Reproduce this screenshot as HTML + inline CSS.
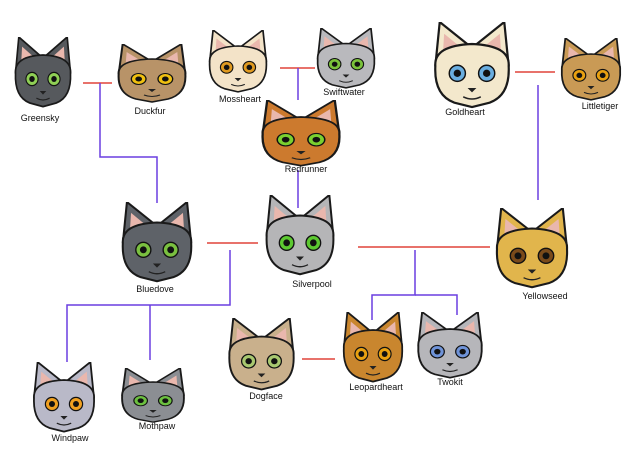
<!DOCTYPE html>
<html><head><style>
body{margin:0;background:#fff}
svg{display:block}
text{font-family:"Liberation Sans",sans-serif;font-size:9px;fill:#111;text-anchor:middle}
</style></head><body>
<svg width="640" height="450" viewBox="0 0 640 450" xmlns="http://www.w3.org/2000/svg">
<defs>
<symbol id="cat" viewBox="0 0 60 60" preserveAspectRatio="none">
<g stroke="#1a1a1a" stroke-width="1.5" stroke-linejoin="round">
<polygon points="5,30 8,0 28,16" fill="currentColor"/>
<polygon points="32,16 52,0 55,30" fill="currentColor"/>
<polygon points="10,24 11,8 22,17" fill="#e9b7ad" stroke="none"/>
<polygon points="38,17 49,8 50,24" fill="#e9b7ad" stroke="none"/>
<path d="M5,30 Q4,16 30,15 Q56,16 55,30 Q56,50 42,55 L30,58 L18,55 Q4,50 5,30 Z" fill="currentColor"/>
</g>
<circle cx="20" cy="35" r="5.5" style="fill:var(--eye)" stroke="#111" stroke-width="1"/>
<circle cx="40" cy="35" r="5.5" style="fill:var(--eye)" stroke="#111" stroke-width="1"/>
<circle cx="20" cy="35" r="2.5" fill="#111"/>
<circle cx="40" cy="35" r="2.5" fill="#111"/>
<path d="M27,45 L33,45 L30,48 Z" fill="#222"/>
<path d="M24,51 Q30,54 36,51" fill="none" stroke="#222" stroke-width="1"/>
</symbol>
</defs>
<g fill="none" stroke-width="1.5">
<g stroke="#e0443a">
<line x1="83" y1="83" x2="112" y2="83"/>
<line x1="280" y1="68" x2="315" y2="68"/>
<line x1="515" y1="72" x2="555" y2="72"/>
<line x1="207" y1="243" x2="258" y2="243"/>
<line x1="358" y1="247" x2="490" y2="247"/>
<line x1="302" y1="359" x2="335" y2="359"/>
</g>
<g stroke="#6a3fe0">
<polyline points="100,83 100,157 157,157 157,203"/>
<line x1="298" y1="68" x2="298" y2="100"/>
<line x1="298" y1="170" x2="298" y2="208"/>
<line x1="538" y1="85" x2="538" y2="200"/>
<polyline points="230,250 230,305 67,305 67,362"/>
<line x1="150" y1="305" x2="150" y2="360"/>
<polyline points="415,250 415,295 372,295 372,320"/>
<polyline points="415,295 457,295 457,315"/>
</g>
</g>
<use href="#cat" x="10" y="37" width="66" height="72" style="color:#56595d;--eye:#8fcf55"/>
<use href="#cat" x="112" y="44" width="80" height="60" style="color:#b89368;--eye:#f0c010"/>
<use href="#cat" x="204" y="30" width="68" height="64" style="color:#f3e3c8;--eye:#e09a20"/>
<use href="#cat" x="312" y="28" width="68" height="62" style="color:#b9b9bd;--eye:#7ac23a"/>
<use href="#cat" x="255" y="100" width="92" height="68" style="color:#cc7a2e;--eye:#7ad030"/>
<use href="#cat" x="428" y="22" width="88" height="88" style="color:#f3e8cc;--eye:#6aaee0"/>
<use href="#cat" x="556" y="38" width="70" height="64" style="color:#c99a55;--eye:#e8a010"/>
<use href="#cat" x="116" y="202" width="82" height="82" style="color:#5e6268;--eye:#7ac040"/>
<use href="#cat" x="260" y="195" width="80" height="82" style="color:#b5b5b7;--eye:#5cc830"/>
<use href="#cat" x="490" y="208" width="84" height="82" style="color:#e1b54c;--eye:#7a4a1a"/>
<use href="#cat" x="28" y="362" width="72" height="72" style="color:#b9b9c8;--eye:#f0a020"/>
<use href="#cat" x="116" y="368" width="74" height="56" style="color:#8b8e93;--eye:#6cc040"/>
<use href="#cat" x="223" y="318" width="77" height="74" style="color:#c9b08c;--eye:#a8c870"/>
<use href="#cat" x="338" y="312" width="70" height="72" style="color:#c9862e;--eye:#e8a010"/>
<use href="#cat" x="412" y="312" width="76" height="68" style="color:#b6b6ba;--eye:#6f93d8"/>
<text x="40" y="121">Greensky</text>
<text x="150" y="114">Duckfur</text>
<text x="240" y="102">Mossheart</text>
<text x="344" y="95">Swiftwater</text>
<text x="306" y="172">Redrunner</text>
<text x="465" y="115">Goldheart</text>
<text x="600" y="109">Littletiger</text>
<text x="155" y="292">Bluedove</text>
<text x="312" y="287">Silverpool</text>
<text x="545" y="299">Yellowseed</text>
<text x="70" y="441">Windpaw</text>
<text x="157" y="429">Mothpaw</text>
<text x="266" y="399">Dogface</text>
<text x="376" y="390">Leopardheart</text>
<text x="450" y="385">Twokit</text>
</svg>
</body></html>
